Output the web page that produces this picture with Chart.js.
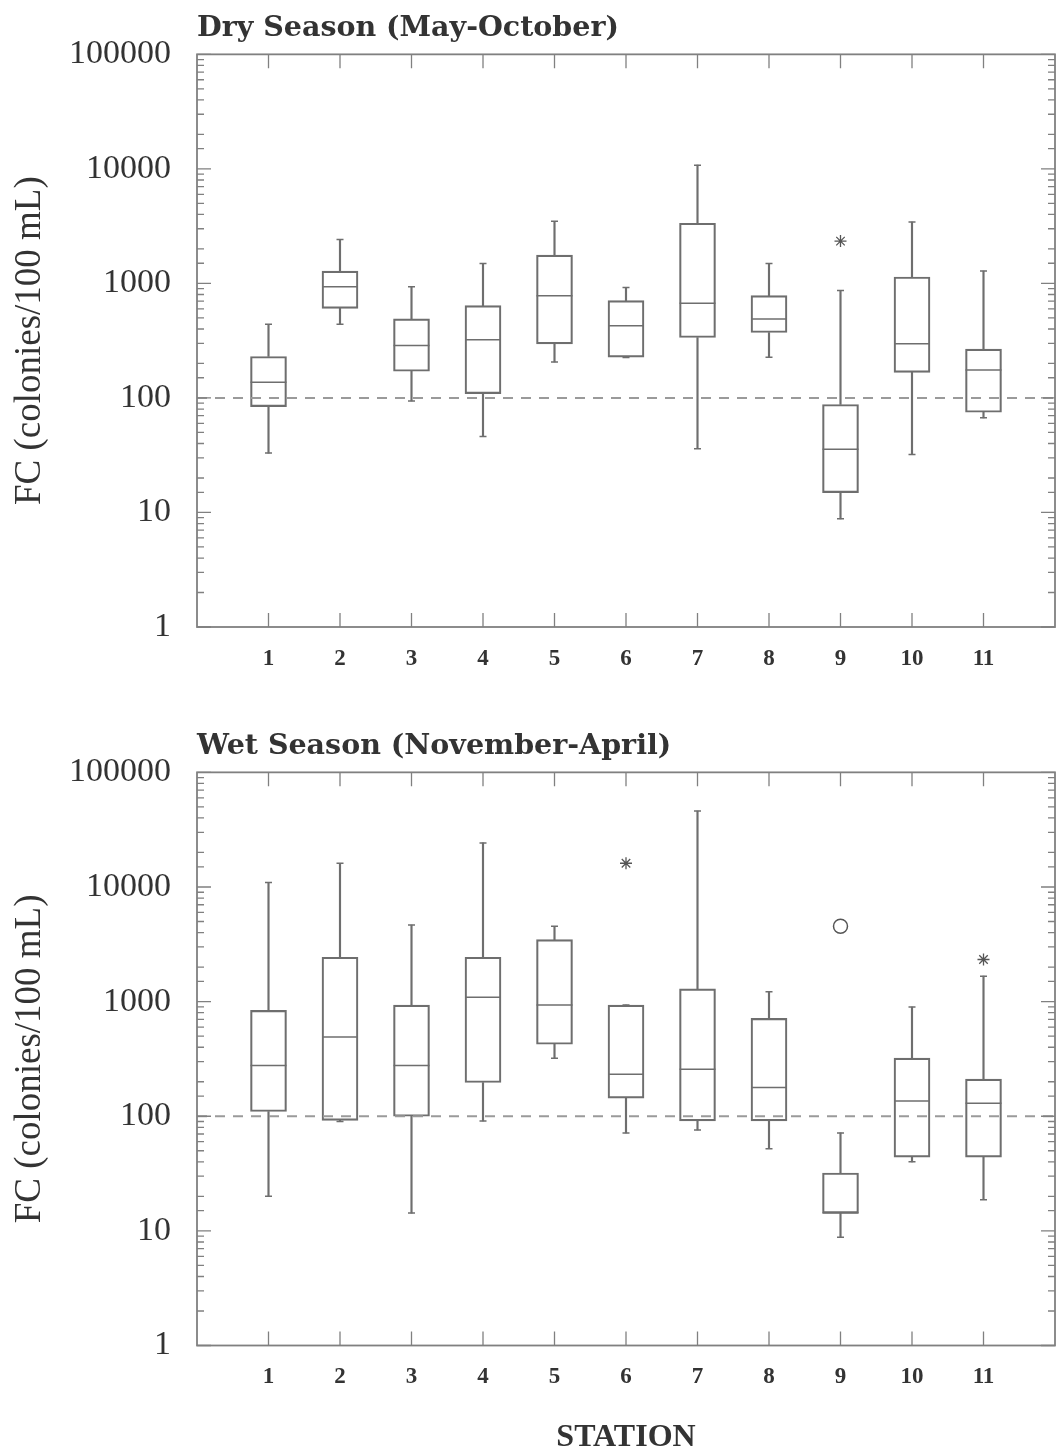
<!DOCTYPE html>
<html>
<head>
<meta charset="utf-8">
<script src="https://cdn.jsdelivr.net/npm/chart.js@4.4.1/dist/chart.umd.min.js"></script>
<style>
  html, body { margin: 0; padding: 0; background: #fff; }
  canvas { display: block; }
</style>
</head>
<body>
<canvas id="dryChart" width="1056" height="700"></canvas>
<canvas id="wetChart" width="1056" height="754"></canvas>
<script>
// Stations on the x axis
const stations = [1, 2, 3, 4, 5, 6, 7, 8, 9, 10, 11];
const yTickLabels = [1, 10, 100, 1000, 10000, 100000];
const limitLine = 100;

// Dry season (May-October) box statistics, colonies/100 mL
const dryMin = [33, 440, 94, 46, 206, 225, 36, 227, 8.8, 32, 67];
const dryQ1  = [84, 606, 171, 109, 297, 227, 337, 373, 14.9, 167, 75];
const dryMed = [137, 936, 287, 322, 782, 426, 670, 490, 35.6, 297, 175];
const dryQ3  = [230, 1282, 490, 639, 1766, 707, 3352, 782, 87.6, 1137, 267];
const dryMax = [440, 2415, 936, 1493, 3490, 923, 10770, 1493, 869, 3440, 1282];
const dryStarStation = [9];
const dryStarValue = [2340];
const dryCircleStation = [];
const dryCircleValue = [];

// Wet season (November-April)
const wetMin = [20, 90, 14.3, 91, 321, 71.5, 76, 52, 8.8, 40, 18.7];
const wetQ1  = [110, 92, 100, 197, 425, 144, 91, 91, 14.3, 44, 44];
const wetMed = [277, 491, 277, 1094, 933, 233, 257, 178, 14.3, 136, 130];
const wetQ3  = [838, 2438, 933, 2438, 3474, 933, 1292, 714, 32, 321, 211];
const wetMax = [10940, 16100, 4656, 24230, 4538, 933, 46000, 1217, 71.5, 896, 1666];
const wetStarStation = [6, 11];
const wetStarValue = [16100, 2330];
const wetCircleStation = [9];
const wetCircleValue = [4540];

const X_MIN = 0, X_MAX = 12;
const lineColor = "#6e6e6e";
const frameColor = "#808080";
const dashColor = "#9a9a9a";
const textColor = "#333";

function isDecade(v) {
  const l = Math.log10(v);
  return Math.abs(l - Math.round(l)) < 1e-9;
}

// inward tick marks on all four sides + frame
const innerTicks = {
  id: "innerTicks",
  afterDraw(chart) {
    const { ctx, chartArea: a, scales: { x, y } } = chart;
    ctx.save();
    ctx.strokeStyle = frameColor;
    ctx.lineWidth = 1.3;
    ctx.beginPath();
    x.ticks.forEach(t => {
      const px = x.getPixelForValue(t.value);
      ctx.moveTo(px, a.bottom); ctx.lineTo(px, a.bottom - 14);
      ctx.moveTo(px, a.top); ctx.lineTo(px, a.top + 14);
    });
    y.ticks.forEach(t => {
      const py = y.getPixelForValue(t.value);
      const len = isDecade(t.value) ? 14 : 7;
      ctx.moveTo(a.left, py); ctx.lineTo(a.left + len, py);
      ctx.moveTo(a.right, py); ctx.lineTo(a.right - len, py);
    });
    ctx.stroke();
    ctx.lineWidth = 1.8;
    ctx.strokeRect(a.left, a.top, a.right - a.left, a.bottom - a.top);
    ctx.restore();
  }
};

function points(xs, ys) {
  return xs.map((s, i) => ({ x: s, y: ys[i] }));
}
function spans(lo, hi) {
  return stations.map((s, i) => ({ x: s, y: [lo[i], hi[i]] }));
}

function buildDatasets(mins, q1s, meds, q3s, maxs, starX, starY, circX, circY) {
  return [
    {
      type: "line",
      data: [{ x: X_MIN, y: limitLine }, { x: X_MAX, y: limitLine }],
      borderColor: dashColor, borderWidth: 2, borderDash: [10, 8], pointRadius: 0
    },
    {
      type: "bar", data: spans(mins, q1s), grouped: false,
      barThickness: 1.5, backgroundColor: lineColor, borderWidth: 0
    },
    {
      type: "bar", data: spans(q3s, maxs), grouped: false,
      barThickness: 1.5, backgroundColor: lineColor, borderWidth: 0
    },
    {
      type: "bar", data: spans(q1s, q3s), grouped: false,
      barThickness: 36, backgroundColor: "rgba(0,0,0,0)",
      borderColor: lineColor, borderWidth: 1.5, borderSkipped: false
    },
    {
      type: "scatter", data: points(stations, meds),
      pointStyle: "line", pointRadius: 18, pointBorderColor: lineColor, pointBorderWidth: 1.5
    },
    {
      type: "scatter", data: points(stations, mins).concat(points(stations, maxs)),
      pointStyle: "line", pointRadius: 3.5, pointBorderColor: lineColor, pointBorderWidth: 1.5
    },
    {
      type: "scatter", data: points(starX, starY),
      pointStyle: "star", pointRadius: 6, pointBorderColor: "#555", pointBorderWidth: 1.3
    },
    {
      type: "scatter", data: points(circX, circY),
      pointStyle: "circle", pointRadius: 7, pointBackgroundColor: "rgba(0,0,0,0)",
      pointBorderColor: "#555", pointBorderWidth: 1.5
    }
  ];
}

function makeChart(id, title, datasets, opts) {
  return new Chart(document.getElementById(id), {
    type: "bar",
    data: { datasets },
    plugins: [innerTicks],
    options: {
      responsive: false,
      animation: false,
      events: [],
      // point radius would otherwise add extra padding on the right
      layout: { autoPadding: false, padding: { top: opts.padTop, right: 1, left: 0, bottom: 0 } },
      plugins: {
        legend: { display: false },
        tooltip: { enabled: false },
        title: {
          display: true, text: title, align: "start", fullSize: false,
          color: textColor,
          font: { family: "DejaVu Serif", size: 28.5, weight: "bold", lineHeight: 1.1 },
          padding: { top: 10, bottom: 10 }
        }
      },
      scales: {
        x: {
          type: "linear", min: X_MIN, max: X_MAX, offset: false,
          grid: { display: false, drawTicks: false }, border: { display: false },
          afterBuildTicks: s => { s.ticks = stations.map(v => ({ value: v })); },
          afterFit: s => { s.height = opts.xHeight; s.paddingLeft = 0; s.paddingRight = 0; },
          ticks: {
            padding: 18, color: textColor, autoSkip: false, maxRotation: 0,
            font: { family: "Liberation Serif", size: 23, weight: "bold" }
          },
          title: {
            display: opts.xTitle, text: "STATION", color: textColor,
            font: { family: "Liberation Serif", size: 32, weight: "bold", lineHeight: 1 },
            padding: { top: 0, bottom: 0 }
          }
        },
        y: {
          type: "logarithmic", min: 1, max: 100000,
          grid: { display: false, drawTicks: false }, border: { display: false },
          afterFit: s => { s.width = 197; },
          ticks: {
            padding: 26, color: textColor, autoSkip: false,
            font: { family: "Liberation Serif", size: 34 },
            callback: v => (isDecade(v) && yTickLabels.includes(Math.round(v)) ? String(Math.round(v)) : "")
          },
          title: {
            display: true, text: "FC (colonies/100 mL)", color: textColor,
            font: { family: "Liberation Serif", size: 37, lineHeight: 1.2 },
            padding: { top: 8, bottom: 0 }
          }
        }
      }
    }
  });
}

makeChart("dryChart", "Dry Season (May-October)",
  buildDatasets(dryMin, dryQ1, dryMed, dryQ3, dryMax, dryStarStation, dryStarValue, dryCircleStation, dryCircleValue),
  { padTop: 3, xHeight: 73, xTitle: false });

makeChart("wetChart", "Wet Season (November-April)",
  buildDatasets(wetMin, wetQ1, wetMed, wetQ3, wetMax, wetStarStation, wetStarValue, wetCircleStation, wetCircleValue),
  { padTop: 21, xHeight: 108.5, xTitle: true });
</script>
</body>
</html>
